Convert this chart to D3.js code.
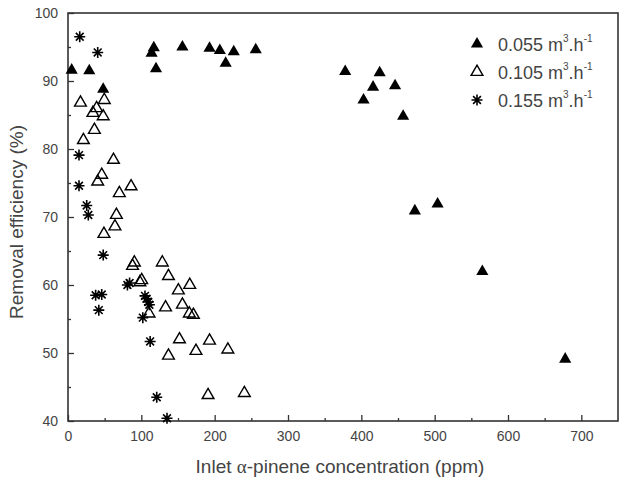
<!DOCTYPE html>
<html>
  <head>
    <style>
      body,
      html {
        margin: 0;
        padding: 0;
        background: #fff;
      }
      text {
        font-family: Arial, 'Liberation Sans', sans-serif;
      }
    </style>
  </head>
  <body>
    <svg id="svg" width="623" height="481"></svg>

    <script src="https://cdn.jsdelivr.net/npm/d3@7"></script>
    <script>
      // [concentration ppm, removal efficiency %]
      const flow055 = [
        [5, 91.6], [29, 91.5], [48, 88.8], [114, 94.1], [117, 94.9], [120, 91.8],
        [156, 95.0], [193, 94.8], [207, 94.5], [215, 92.6], [226, 94.3], [256, 94.6],
        [378, 91.4], [403, 87.2], [416, 89.1], [425, 91.2], [446, 89.3], [457, 84.8],
        [473, 70.9], [504, 71.9], [565, 62.0], [678, 49.1]
      ];
      const flow105 = [
        [17, 86.8], [49.5, 87.2], [39, 86.0], [34, 85.3], [48, 84.8], [36, 82.8],
        [21, 81.3], [62, 78.4], [46, 76.2], [40.5, 75.2], [86, 74.5], [70, 73.5],
        [66, 70.3], [64, 68.6], [49, 67.5], [90.5, 63.3], [88, 62.8], [100.5, 60.7],
        [98, 60.4], [128.6, 63.3], [137, 61.3], [166, 60.0], [150.5, 59.2], [156, 57.1],
        [165.5, 55.8], [171, 55.6], [133, 56.7], [110.5, 55.8], [152, 52.0], [193, 51.8],
        [218, 50.5], [174.5, 50.3], [137, 49.6], [191, 43.8], [240.5, 44.1]
      ];
      const flow155 = [
        [16, 96.5], [40.5, 94.2], [15, 79.1], [15, 74.6], [25.5, 71.7], [27.7, 70.3],
        [48, 64.4], [81, 60.0], [84, 60.3], [37.7, 58.5], [46, 58.6], [42, 56.3],
        [105, 58.4], [107, 58.0], [109.5, 57.5], [111, 57.1], [102, 55.2], [112, 51.7],
        [121, 43.5], [135, 40.4]
      ];
      const legendLabels = ['0.055', '0.105', '0.155'];
      const xTicks = [0, 100, 200, 300, 400, 500, 600, 700];
      const yTicks = [40, 50, 60, 70, 80, 90, 100];

      const margin = { top: 13, right: 5, bottom: 60, left: 68 };
      const width = 623 - margin.left - margin.right;
      const height = 481 - margin.top - margin.bottom;

      const svg = d3.select('#svg');
      const g = svg
        .append('g')
        .attr('transform', `translate(${margin.left}, ${margin.top})`);

      const xScale = d3.scaleLinear().domain([0, 750]).range([0, width]);
      const yScale = d3.scaleLinear().domain([40, 100]).range([height, 0]);

      const axisColor = '#333';
      const textColor = '#444';

      // minor ticks
      g.append('g')
        .attr('transform', `translate(0, ${height})`)
        .call(d3.axisBottom(xScale).tickValues(d3.range(50, 750, 100)).tickSize(-3).tickFormat(''))
        .call((a) => a.select('.domain').remove());
      g.append('g')
        .call(d3.axisLeft(yScale).tickValues(d3.range(45, 100, 10)).tickSize(-3).tickFormat(''))
        .call((a) => a.select('.domain').remove());

      // major ticks + labels
      const bottomAxis = g
        .append('g')
        .attr('transform', `translate(0, ${height})`)
        .call(d3.axisBottom(xScale).tickValues(xTicks).tickSize(-6).tickPadding(10));
      const leftAxis = g
        .append('g')
        .call(d3.axisLeft(yScale).tickValues(yTicks).tickSize(-6).tickPadding(10));

      [bottomAxis, leftAxis].forEach((a) => {
        a.select('.domain').remove();
        a.selectAll('text').attr('font-size', 14).attr('fill', textColor).attr('font-family', 'Arial, sans-serif');
      });
      g.selectAll('.tick line').attr('stroke', axisColor).attr('stroke-width', 1.3);

      // frame
      g.append('rect')
        .attr('width', width)
        .attr('height', height)
        .attr('fill', 'none')
        .attr('stroke', axisColor)
        .attr('stroke-width', 1.6);

      const triangle = d3.symbol().type(d3.symbolTriangle);
      const starPath = (r) => {
        const d = r * Math.SQRT1_2;
        return `M${-r},0L${r},0M0,${-r}L0,${r}M${-d},${-d}L${d},${d}M${-d},${d}L${d},${-d}`;
      };

      const drawFilled = (sel) => sel.attr('d', triangle.size(64)()).attr('fill', '#000');
      const drawOpen = (sel) =>
        sel.attr('d', triangle.size(60)()).attr('fill', 'none').attr('stroke', '#000').attr('stroke-width', 1.4);
      const drawStar = (sel) => sel.attr('d', starPath(5.5)).attr('fill', 'none').attr('stroke', '#000').attr('stroke-width', 1.6);

      const series = [
        { data: flow055, draw: drawFilled },
        { data: flow105, draw: drawOpen },
        { data: flow155, draw: drawStar }
      ];

      series.forEach((s) => {
        g.append('g')
          .selectAll('path')
          .data(s.data)
          .enter()
          .append('path')
          .attr('transform', (d) => `translate(${xScale(d[0])}, ${yScale(d[1])})`)
          .call(s.draw);
      });

      // legend
      const legend = g.append('g').attr('transform', `translate(${477 - margin.left}, ${44 - margin.top})`);
      legendLabels.forEach((label, i) => {
        const row = legend.append('g').attr('transform', `translate(0, ${i * 28})`);
        row.append('path').call(series[i].draw);
        const t = row
          .append('text')
          .attr('x', 21)
          .attr('y', 6.5)
          .attr('font-size', 18)
          .attr('fill', textColor);
        t.append('tspan').text(`${label} m`);
        t.append('tspan').attr('font-size', 10).attr('dy', -9).text('3');
        t.append('tspan').attr('dy', 9).text('.h');
        t.append('tspan').attr('font-size', 10).attr('dy', -9).text('-1');
      });

      // axis titles
      const xTitle = svg
        .append('text')
        .attr('x', 340)
        .attr('y', 473)
        .attr('text-anchor', 'middle')
        .attr('font-size', 19)
        .attr('fill', textColor);
      xTitle.append('tspan').text('Inlet ');
      xTitle.append('tspan').attr('font-family', "'Liberation Serif', 'DejaVu Serif', serif").attr('font-size', 19).text('α');
      xTitle.append('tspan').text('-pinene concentration (ppm)');

      svg
        .append('text')
        .attr('transform', 'translate(23, 222) rotate(-90)')
        .attr('text-anchor', 'middle')
        .attr('font-size', 19)
        .attr('fill', textColor)
        .text('Removal efficiency (%)');
    </script>
  </body>
</html>
